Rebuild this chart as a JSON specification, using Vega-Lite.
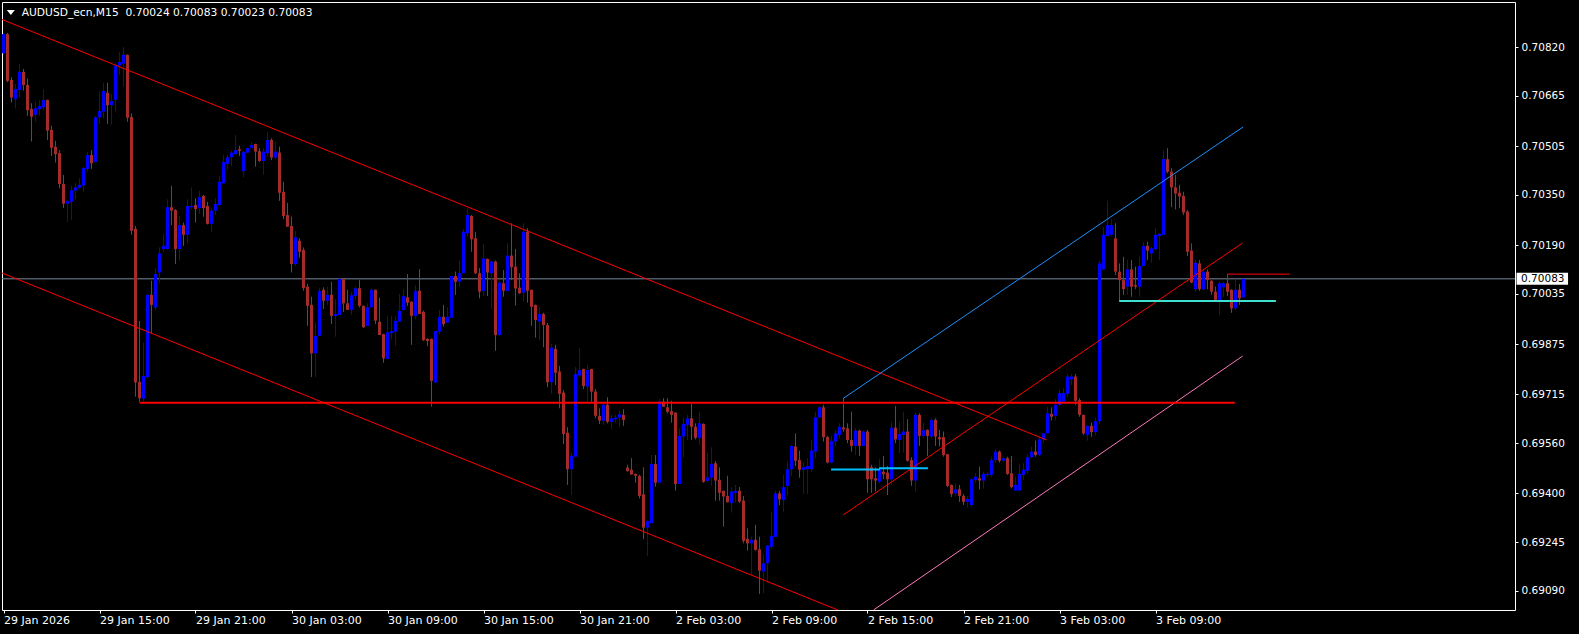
{
"$schema":"https://vega.github.io/schema/vega-lite/v6.json",
"width":1513,"height":608,
"autosize":{"type":"none"},
"padding":{"left":2,"top":2,"right":64,"bottom":24},
"background":"#000000",
"config":{"view":{"stroke":"#FFFFFF","strokeWidth":1},"font":"DejaVu Sans","axis":{"grid":false,"domain":false,"labelFont":"DejaVu Sans","labelFontSize":10.5,"labelColor":"#FFFFFF","tickColor":"#FFFFFF","tickWidth":1}},
"datasets":{
"bid":[{"p":0.70083}],
"head":[{"t":"AUDUSD_ecn,M15\u00a0 0.70024 0.70083 0.70023 0.70083"}],
"lines":[
{"name":"upper","x1":-0.375,"p1":0.709085,"x2":260.8,"p2":0.695699},
{"name":"lower","x1":-0.375,"p1":0.701015,"x2":208.6,"p2":0.690288},
{"name":"blue","x1":209.9,"p1":0.69702,"x2":309.9,"p2":0.705663},
{"name":"mid","x1":209.9,"p1":0.693312,"x2":309.75,"p2":0.70197},
{"name":"pink","x1":217.5,"p1":0.690288,"x2":309.8,"p2":0.698373},
{"name":"short","x1":305.95,"p1":0.70098,"x2":321.6,"p2":0.70098}],
"thick":[
{"name":"support","x1":34,"p1":0.696886,"x2":307.8,"p2":0.696886},
{"name":"cyanA","x1":206.9,"p1":0.69476,"x2":219.1,"p2":0.69476},
{"name":"cyanB","x1":218.9,"p1":0.694798,"x2":231.1,"p2":0.694798},
{"name":"turq","x1":278.95,"p1":0.700124,"x2":318.1,"p2":0.700124}],
"candles":[
{"i":0,"o":0.70801,"h":0.70866,"l":0.70795,"c":0.70862},
{"i":1,"o":0.70862,"h":0.70866,"l":0.70709,"c":0.70713},
{"i":2,"o":0.70716,"h":0.70725,"l":0.70644,"c":0.7066},
{"i":3,"o":0.70655,"h":0.70703,"l":0.70625,"c":0.70687},
{"i":4,"o":0.70684,"h":0.70767,"l":0.70661,"c":0.70742},
{"i":5,"o":0.70742,"h":0.70751,"l":0.70682,"c":0.707},
{"i":6,"o":0.707,"h":0.70721,"l":0.70602,"c":0.7062},
{"i":7,"o":0.70624,"h":0.70642,"l":0.7052,"c":0.70599},
{"i":8,"o":0.70605,"h":0.70647,"l":0.70583,"c":0.70626},
{"i":9,"o":0.70623,"h":0.70652,"l":0.70602,"c":0.70633},
{"i":10,"o":0.70629,"h":0.70686,"l":0.7062,"c":0.70652},
{"i":11,"o":0.70652,"h":0.70654,"l":0.70525,"c":0.70555},
{"i":12,"o":0.70557,"h":0.7057,"l":0.70474,"c":0.705},
{"i":13,"o":0.70503,"h":0.70522,"l":0.70453,"c":0.7048},
{"i":14,"o":0.70483,"h":0.70493,"l":0.70371,"c":0.70385},
{"i":15,"o":0.70385,"h":0.70414,"l":0.70309,"c":0.70322},
{"i":16,"o":0.70322,"h":0.70334,"l":0.70265,"c":0.70331},
{"i":17,"o":0.70329,"h":0.70379,"l":0.7027,"c":0.70365},
{"i":18,"o":0.70364,"h":0.70387,"l":0.70337,"c":0.70374},
{"i":19,"o":0.70373,"h":0.70403,"l":0.70369,"c":0.70382},
{"i":20,"o":0.7038,"h":0.7044,"l":0.7036,"c":0.70436},
{"i":21,"o":0.70433,"h":0.70487,"l":0.70424,"c":0.70477},
{"i":22,"o":0.70477,"h":0.70493,"l":0.70433,"c":0.70451},
{"i":23,"o":0.70455,"h":0.70601,"l":0.70453,"c":0.70597},
{"i":24,"o":0.70597,"h":0.70679,"l":0.70576,"c":0.70617},
{"i":25,"o":0.70615,"h":0.70707,"l":0.70594,"c":0.70681},
{"i":26,"o":0.70675,"h":0.70707,"l":0.70576,"c":0.70636},
{"i":27,"o":0.70636,"h":0.70671,"l":0.70573,"c":0.70649},
{"i":28,"o":0.70653,"h":0.70769,"l":0.70615,"c":0.70762},
{"i":29,"o":0.70762,"h":0.70805,"l":0.70732,"c":0.70773},
{"i":30,"o":0.70768,"h":0.70821,"l":0.70695,"c":0.70796},
{"i":31,"o":0.70796,"h":0.70797,"l":0.70583,"c":0.70596},
{"i":32,"o":0.70598,"h":0.7061,"l":0.70223,"c":0.70236},
{"i":33,"o":0.70242,"h":0.70251,"l":0.69708,"c":0.69753},
{"i":34,"o":0.69755,"h":0.69949,"l":0.69692,"c":0.69703},
{"i":35,"o":0.69701,"h":0.6988,"l":0.69692,"c":0.69774},
{"i":36,"o":0.6977,"h":0.70035,"l":0.69767,"c":0.70032},
{"i":37,"o":0.70032,"h":0.70077,"l":0.6991,"c":0.7},
{"i":38,"o":0.69992,"h":0.70118,"l":0.69984,"c":0.70098},
{"i":39,"o":0.70103,"h":0.70183,"l":0.70069,"c":0.70164},
{"i":40,"o":0.70178,"h":0.70226,"l":0.70169,"c":0.70188},
{"i":41,"o":0.70178,"h":0.70336,"l":0.70175,"c":0.70311},
{"i":42,"o":0.70311,"h":0.70379,"l":0.70254,"c":0.703},
{"i":43,"o":0.70302,"h":0.70305,"l":0.7013,"c":0.70178},
{"i":44,"o":0.70178,"h":0.70283,"l":0.70141,"c":0.70254},
{"i":45,"o":0.70254,"h":0.70262,"l":0.70188,"c":0.70223},
{"i":46,"o":0.70223,"h":0.70336,"l":0.70196,"c":0.70315},
{"i":47,"o":0.70311,"h":0.70374,"l":0.70304,"c":0.70315},
{"i":48,"o":0.70318,"h":0.70339,"l":0.70262,"c":0.70305},
{"i":49,"o":0.70308,"h":0.70363,"l":0.70289,"c":0.70343},
{"i":50,"o":0.70347,"h":0.7035,"l":0.70281,"c":0.70308},
{"i":51,"o":0.70315,"h":0.70328,"l":0.70256,"c":0.70258},
{"i":52,"o":0.70258,"h":0.70308,"l":0.70233,"c":0.703},
{"i":53,"o":0.703,"h":0.70339,"l":0.70286,"c":0.70321},
{"i":54,"o":0.70318,"h":0.7041,"l":0.70315,"c":0.70392},
{"i":55,"o":0.70387,"h":0.70477,"l":0.70385,"c":0.70455},
{"i":56,"o":0.70449,"h":0.70477,"l":0.7043,"c":0.7047},
{"i":57,"o":0.7047,"h":0.70491,"l":0.70442,"c":0.70485},
{"i":58,"o":0.7048,"h":0.70541,"l":0.70477,"c":0.70493},
{"i":59,"o":0.70495,"h":0.70506,"l":0.70474,"c":0.7049},
{"i":60,"o":0.70426,"h":0.70491,"l":0.70406,"c":0.70487},
{"i":61,"o":0.70485,"h":0.705,"l":0.70483,"c":0.70499},
{"i":62,"o":0.70499,"h":0.70519,"l":0.70498,"c":0.70509},
{"i":63,"o":0.70512,"h":0.70513,"l":0.7044,"c":0.70488},
{"i":64,"o":0.70489,"h":0.70499,"l":0.70456,"c":0.70458},
{"i":65,"o":0.70458,"h":0.70499,"l":0.70414,"c":0.70488},
{"i":66,"o":0.70483,"h":0.7055,"l":0.70472,"c":0.70525},
{"i":67,"o":0.70525,"h":0.7053,"l":0.70461,"c":0.70469},
{"i":68,"o":0.70469,"h":0.7052,"l":0.70464,"c":0.70488},
{"i":69,"o":0.70485,"h":0.70504,"l":0.70331,"c":0.70357},
{"i":70,"o":0.7036,"h":0.70392,"l":0.70273,"c":0.70283},
{"i":71,"o":0.70286,"h":0.70325,"l":0.70248,"c":0.70249},
{"i":72,"o":0.70251,"h":0.70281,"l":0.70103,"c":0.7013},
{"i":73,"o":0.7013,"h":0.70236,"l":0.70124,"c":0.70215},
{"i":74,"o":0.70204,"h":0.70212,"l":0.7015,"c":0.70169},
{"i":75,"o":0.70175,"h":0.70183,"l":0.70045,"c":0.70053},
{"i":76,"o":0.70058,"h":0.70067,"l":0.69933,"c":0.69997},
{"i":77,"o":0.7,"h":0.70026,"l":0.6977,"c":0.69846},
{"i":78,"o":0.69846,"h":0.69942,"l":0.6977,"c":0.69901},
{"i":79,"o":0.69902,"h":0.70053,"l":0.699,"c":0.70044},
{"i":80,"o":0.70048,"h":0.70056,"l":0.69987,"c":0.70013},
{"i":81,"o":0.70013,"h":0.70058,"l":0.7,"c":0.70032},
{"i":82,"o":0.70032,"h":0.70073,"l":0.69939,"c":0.69965},
{"i":83,"o":0.69965,"h":0.70019,"l":0.69899,"c":0.69971},
{"i":84,"o":0.69968,"h":0.70085,"l":0.69968,"c":0.70082},
{"i":85,"o":0.70082,"h":0.70086,"l":0.69978,"c":0.70005},
{"i":86,"o":0.70005,"h":0.70048,"l":0.69984,"c":0.69984},
{"i":87,"o":0.69984,"h":0.70042,"l":0.69968,"c":0.70031},
{"i":88,"o":0.70028,"h":0.70058,"l":0.70016,"c":0.70053},
{"i":89,"o":0.70053,"h":0.70079,"l":0.69992,"c":0.69997},
{"i":90,"o":0.69997,"h":0.69998,"l":0.69926,"c":0.69929},
{"i":91,"o":0.69933,"h":0.70005,"l":0.69933,"c":0.69992},
{"i":92,"o":0.69992,"h":0.70053,"l":0.69992,"c":0.70048},
{"i":93,"o":0.70048,"h":0.70049,"l":0.69939,"c":0.6995},
{"i":94,"o":0.69946,"h":0.70023,"l":0.69904,"c":0.69904},
{"i":95,"o":0.69907,"h":0.69908,"l":0.69816,"c":0.6983},
{"i":96,"o":0.69828,"h":0.69965,"l":0.69828,"c":0.69913},
{"i":97,"o":0.6991,"h":0.69965,"l":0.69891,"c":0.69916},
{"i":98,"o":0.69915,"h":0.69963,"l":0.69869,"c":0.69949},
{"i":99,"o":0.69947,"h":0.70035,"l":0.69947,"c":0.69981},
{"i":100,"o":0.69984,"h":0.7005,"l":0.69982,"c":0.70028},
{"i":101,"o":0.70024,"h":0.70098,"l":0.69997,"c":0.70007},
{"i":102,"o":0.7001,"h":0.70011,"l":0.69873,"c":0.69965},
{"i":103,"o":0.69965,"h":0.70063,"l":0.69954,"c":0.70044},
{"i":104,"o":0.70045,"h":0.70114,"l":0.69971,"c":0.69971},
{"i":105,"o":0.69978,"h":0.69982,"l":0.69885,"c":0.69888},
{"i":106,"o":0.69892,"h":0.69894,"l":0.69869,"c":0.69885},
{"i":107,"o":0.69892,"h":0.69893,"l":0.69676,"c":0.69758},
{"i":108,"o":0.69753,"h":0.69917,"l":0.69753,"c":0.69917},
{"i":109,"o":0.69915,"h":0.69984,"l":0.69907,"c":0.69962},
{"i":110,"o":0.69962,"h":0.7,"l":0.69931,"c":0.69939},
{"i":111,"o":0.69943,"h":0.69992,"l":0.69943,"c":0.69962},
{"i":112,"o":0.69959,"h":0.70092,"l":0.69959,"c":0.70092},
{"i":113,"o":0.70092,"h":0.70106,"l":0.70032,"c":0.70074},
{"i":114,"o":0.70074,"h":0.70141,"l":0.70058,"c":0.70101},
{"i":115,"o":0.70101,"h":0.70241,"l":0.70101,"c":0.70233},
{"i":116,"o":0.70228,"h":0.70308,"l":0.70217,"c":0.70286},
{"i":117,"o":0.70283,"h":0.70286,"l":0.70169,"c":0.70209},
{"i":118,"o":0.70212,"h":0.70233,"l":0.70098,"c":0.70101},
{"i":119,"o":0.70101,"h":0.70117,"l":0.70021,"c":0.70042},
{"i":120,"o":0.70044,"h":0.70194,"l":0.70028,"c":0.70148},
{"i":121,"o":0.70146,"h":0.70148,"l":0.70028,"c":0.70103},
{"i":122,"o":0.70101,"h":0.70141,"l":0.69987,"c":0.70138},
{"i":123,"o":0.70138,"h":0.70141,"l":0.69854,"c":0.69904},
{"i":124,"o":0.69904,"h":0.70077,"l":0.69902,"c":0.70071},
{"i":125,"o":0.70069,"h":0.70111,"l":0.70026,"c":0.70045},
{"i":126,"o":0.70044,"h":0.70196,"l":0.70044,"c":0.70157},
{"i":127,"o":0.70157,"h":0.7026,"l":0.70079,"c":0.7012},
{"i":128,"o":0.70122,"h":0.70178,"l":0.69998,"c":0.70052},
{"i":129,"o":0.70055,"h":0.70101,"l":0.70035,"c":0.70037},
{"i":130,"o":0.70039,"h":0.7026,"l":0.7001,"c":0.70233},
{"i":131,"o":0.70233,"h":0.70244,"l":0.70007,"c":0.70045},
{"i":132,"o":0.70048,"h":0.70049,"l":0.69933,"c":0.69994},
{"i":133,"o":0.7,"h":0.70001,"l":0.69896,"c":0.69952},
{"i":134,"o":0.69947,"h":0.69994,"l":0.69888,"c":0.69971},
{"i":135,"o":0.69971,"h":0.69975,"l":0.69865,"c":0.69936},
{"i":136,"o":0.69936,"h":0.69943,"l":0.69738,"c":0.69754},
{"i":137,"o":0.69754,"h":0.69876,"l":0.69717,"c":0.69864},
{"i":138,"o":0.6986,"h":0.69873,"l":0.69745,"c":0.69784},
{"i":139,"o":0.69788,"h":0.69806,"l":0.69671,"c":0.69717},
{"i":140,"o":0.69721,"h":0.69729,"l":0.69557,"c":0.69589},
{"i":141,"o":0.69593,"h":0.69611,"l":0.69427,"c":0.69477},
{"i":142,"o":0.69477,"h":0.69531,"l":0.69395,"c":0.6952},
{"i":143,"o":0.69517,"h":0.69802,"l":0.69517,"c":0.6978},
{"i":144,"o":0.69775,"h":0.69862,"l":0.6977,"c":0.69793},
{"i":145,"o":0.69796,"h":0.69797,"l":0.69732,"c":0.69742},
{"i":146,"o":0.6974,"h":0.69809,"l":0.69692,"c":0.69793},
{"i":147,"o":0.69796,"h":0.69797,"l":0.69692,"c":0.69724},
{"i":148,"o":0.69724,"h":0.69732,"l":0.69639,"c":0.69647},
{"i":149,"o":0.69647,"h":0.69671,"l":0.69621,"c":0.69632},
{"i":150,"o":0.69631,"h":0.69687,"l":0.69618,"c":0.69682},
{"i":151,"o":0.69682,"h":0.69706,"l":0.69623,"c":0.69628},
{"i":152,"o":0.69628,"h":0.6965,"l":0.69604,"c":0.69639},
{"i":153,"o":0.69636,"h":0.6965,"l":0.69625,"c":0.69641},
{"i":154,"o":0.69641,"h":0.69663,"l":0.69611,"c":0.69652},
{"i":155,"o":0.6965,"h":0.69668,"l":0.69615,"c":0.69634},
{"i":156,"o":0.69482,"h":0.69491,"l":0.69469,"c":0.69471},
{"i":157,"o":0.69475,"h":0.69512,"l":0.69459,"c":0.6946},
{"i":158,"o":0.69462,"h":0.69463,"l":0.69434,"c":0.69456},
{"i":159,"o":0.69456,"h":0.69459,"l":0.69384,"c":0.69392},
{"i":160,"o":0.69397,"h":0.69483,"l":0.69254,"c":0.69291},
{"i":161,"o":0.69291,"h":0.69315,"l":0.69201,"c":0.69312},
{"i":162,"o":0.69305,"h":0.69522,"l":0.69305,"c":0.69494},
{"i":163,"o":0.69494,"h":0.69522,"l":0.69421,"c":0.69434},
{"i":164,"o":0.69434,"h":0.697,"l":0.69434,"c":0.69692},
{"i":165,"o":0.69692,"h":0.69703,"l":0.69676,"c":0.69676},
{"i":166,"o":0.69674,"h":0.69703,"l":0.69655,"c":0.6966},
{"i":167,"o":0.69662,"h":0.69695,"l":0.69625,"c":0.6965},
{"i":168,"o":0.69657,"h":0.69658,"l":0.69409,"c":0.6943},
{"i":169,"o":0.6943,"h":0.69607,"l":0.6943,"c":0.69583},
{"i":170,"o":0.69581,"h":0.69642,"l":0.69515,"c":0.69621},
{"i":171,"o":0.69618,"h":0.6965,"l":0.6957,"c":0.69639},
{"i":172,"o":0.69639,"h":0.69685,"l":0.6957,"c":0.69612},
{"i":173,"o":0.69612,"h":0.69623,"l":0.69572,"c":0.69577},
{"i":174,"o":0.69577,"h":0.6966,"l":0.69554,"c":0.69623},
{"i":175,"o":0.69621,"h":0.69623,"l":0.69434,"c":0.69437},
{"i":176,"o":0.6944,"h":0.69528,"l":0.69437,"c":0.69451},
{"i":177,"o":0.6945,"h":0.69547,"l":0.69424,"c":0.69494},
{"i":178,"o":0.69496,"h":0.69503,"l":0.69377,"c":0.69441},
{"i":179,"o":0.69443,"h":0.69483,"l":0.69377,"c":0.69402},
{"i":180,"o":0.69408,"h":0.69409,"l":0.69294,"c":0.6939},
{"i":181,"o":0.69392,"h":0.69456,"l":0.69371,"c":0.69372},
{"i":182,"o":0.69369,"h":0.6942,"l":0.69339,"c":0.69406},
{"i":183,"o":0.69402,"h":0.69427,"l":0.69371,"c":0.69408},
{"i":184,"o":0.69408,"h":0.6942,"l":0.69369,"c":0.69374},
{"i":185,"o":0.69377,"h":0.69392,"l":0.69241,"c":0.69249},
{"i":186,"o":0.69255,"h":0.69289,"l":0.69218,"c":0.69241},
{"i":187,"o":0.69241,"h":0.69262,"l":0.6914,"c":0.69252},
{"i":188,"o":0.69252,"h":0.693,"l":0.69218,"c":0.6922},
{"i":189,"o":0.69222,"h":0.69262,"l":0.6908,"c":0.69154},
{"i":190,"o":0.69151,"h":0.69207,"l":0.69082,"c":0.69178},
{"i":191,"o":0.69178,"h":0.69236,"l":0.69119,"c":0.69234},
{"i":192,"o":0.6923,"h":0.69342,"l":0.69225,"c":0.69265},
{"i":193,"o":0.69262,"h":0.69408,"l":0.69262,"c":0.694},
{"i":194,"o":0.694,"h":0.69408,"l":0.69363,"c":0.69381},
{"i":195,"o":0.69379,"h":0.69459,"l":0.69341,"c":0.6942},
{"i":196,"o":0.69424,"h":0.69501,"l":0.69395,"c":0.69477},
{"i":197,"o":0.69477,"h":0.69554,"l":0.69456,"c":0.69551},
{"i":198,"o":0.69549,"h":0.69591,"l":0.69487,"c":0.69504},
{"i":199,"o":0.69506,"h":0.69536,"l":0.6945,"c":0.69475},
{"i":200,"o":0.69475,"h":0.69501,"l":0.69398,"c":0.69483},
{"i":201,"o":0.69477,"h":0.69512,"l":0.69398,"c":0.69487},
{"i":202,"o":0.69477,"h":0.6957,"l":0.69469,"c":0.69536},
{"i":203,"o":0.69533,"h":0.6966,"l":0.69512,"c":0.69642},
{"i":204,"o":0.69642,"h":0.69678,"l":0.69639,"c":0.69674},
{"i":205,"o":0.69674,"h":0.69682,"l":0.69565,"c":0.69579},
{"i":206,"o":0.69579,"h":0.69583,"l":0.69496,"c":0.69498},
{"i":207,"o":0.69498,"h":0.69583,"l":0.69496,"c":0.69567},
{"i":208,"o":0.69565,"h":0.696,"l":0.69551,"c":0.69591},
{"i":209,"o":0.69586,"h":0.69623,"l":0.69576,"c":0.69612},
{"i":210,"o":0.6961,"h":0.69703,"l":0.69597,"c":0.69604},
{"i":211,"o":0.69607,"h":0.69623,"l":0.6956,"c":0.6957},
{"i":212,"o":0.6957,"h":0.6966,"l":0.69533,"c":0.69551},
{"i":213,"o":0.69551,"h":0.69607,"l":0.69522,"c":0.696},
{"i":214,"o":0.696,"h":0.69602,"l":0.69519,"c":0.69551},
{"i":215,"o":0.69551,"h":0.69602,"l":0.69551,"c":0.69597},
{"i":216,"o":0.69597,"h":0.69602,"l":0.69402,"c":0.69445},
{"i":217,"o":0.69483,"h":0.69491,"l":0.69402,"c":0.69445},
{"i":218,"o":0.69448,"h":0.69483,"l":0.69406,"c":0.69441},
{"i":219,"o":0.69437,"h":0.69509,"l":0.69432,"c":0.69477},
{"i":220,"o":0.69469,"h":0.69519,"l":0.69445,"c":0.69461},
{"i":221,"o":0.69466,"h":0.69487,"l":0.69395,"c":0.69445},
{"i":222,"o":0.69445,"h":0.69628,"l":0.69427,"c":0.69609},
{"i":223,"o":0.69609,"h":0.69678,"l":0.6956,"c":0.69572},
{"i":224,"o":0.6957,"h":0.69628,"l":0.69528,"c":0.69589},
{"i":225,"o":0.69586,"h":0.6966,"l":0.6953,"c":0.69597},
{"i":226,"o":0.69597,"h":0.69636,"l":0.69501,"c":0.69504},
{"i":227,"o":0.69506,"h":0.69515,"l":0.69424,"c":0.69441},
{"i":228,"o":0.69441,"h":0.69657,"l":0.69406,"c":0.6965},
{"i":229,"o":0.6965,"h":0.69655,"l":0.69551,"c":0.69583},
{"i":230,"o":0.69583,"h":0.69625,"l":0.69576,"c":0.69602},
{"i":231,"o":0.69602,"h":0.69604,"l":0.69519,"c":0.69583},
{"i":232,"o":0.69581,"h":0.69636,"l":0.69575,"c":0.69634},
{"i":233,"o":0.69634,"h":0.69639,"l":0.69551,"c":0.69581},
{"i":234,"o":0.69579,"h":0.69602,"l":0.69549,"c":0.69572},
{"i":235,"o":0.69579,"h":0.69597,"l":0.69517,"c":0.69522},
{"i":236,"o":0.69525,"h":0.69526,"l":0.6942,"c":0.69424},
{"i":237,"o":0.69427,"h":0.69428,"l":0.69388,"c":0.69398},
{"i":238,"o":0.694,"h":0.69434,"l":0.6939,"c":0.69413},
{"i":239,"o":0.69413,"h":0.69427,"l":0.69373,"c":0.69392},
{"i":240,"o":0.69392,"h":0.69398,"l":0.69363,"c":0.69373},
{"i":241,"o":0.69373,"h":0.69392,"l":0.69354,"c":0.69382},
{"i":242,"o":0.69363,"h":0.69446,"l":0.69357,"c":0.69445},
{"i":243,"o":0.69443,"h":0.69464,"l":0.69434,"c":0.69453},
{"i":244,"o":0.69448,"h":0.69485,"l":0.69413,"c":0.69441},
{"i":245,"o":0.69441,"h":0.69469,"l":0.69416,"c":0.69462},
{"i":246,"o":0.69459,"h":0.69466,"l":0.69451,"c":0.69462},
{"i":247,"o":0.69459,"h":0.69515,"l":0.69451,"c":0.69506},
{"i":248,"o":0.69506,"h":0.69541,"l":0.69496,"c":0.69533},
{"i":249,"o":0.69533,"h":0.69536,"l":0.69498,"c":0.69504},
{"i":250,"o":0.69504,"h":0.69515,"l":0.69501,"c":0.69512},
{"i":251,"o":0.69512,"h":0.69517,"l":0.69459,"c":0.69462},
{"i":252,"o":0.69464,"h":0.69519,"l":0.69416,"c":0.6942},
{"i":253,"o":0.69409,"h":0.69453,"l":0.69409,"c":0.69427},
{"i":254,"o":0.69409,"h":0.69494,"l":0.69409,"c":0.69462},
{"i":255,"o":0.69459,"h":0.69496,"l":0.69443,"c":0.69475},
{"i":256,"o":0.69472,"h":0.69525,"l":0.69462,"c":0.69515},
{"i":257,"o":0.69515,"h":0.69549,"l":0.69512,"c":0.69533},
{"i":258,"o":0.69533,"h":0.69568,"l":0.69517,"c":0.69522},
{"i":259,"o":0.69522,"h":0.69583,"l":0.69519,"c":0.69572},
{"i":260,"o":0.69572,"h":0.69593,"l":0.6956,"c":0.69591},
{"i":261,"o":0.69591,"h":0.69676,"l":0.69591,"c":0.69655},
{"i":262,"o":0.69653,"h":0.69674,"l":0.69632,"c":0.69644},
{"i":263,"o":0.69647,"h":0.697,"l":0.69632,"c":0.69682},
{"i":264,"o":0.69682,"h":0.69729,"l":0.69678,"c":0.69719},
{"i":265,"o":0.69692,"h":0.69735,"l":0.69687,"c":0.69719},
{"i":266,"o":0.69717,"h":0.6978,"l":0.69708,"c":0.69772},
{"i":267,"o":0.69763,"h":0.6978,"l":0.69745,"c":0.69772},
{"i":268,"o":0.69772,"h":0.6978,"l":0.69682,"c":0.69695},
{"i":269,"o":0.69697,"h":0.69703,"l":0.69644,"c":0.6965},
{"i":270,"o":0.6965,"h":0.69651,"l":0.69586,"c":0.69591},
{"i":271,"o":0.69586,"h":0.69618,"l":0.69568,"c":0.69615},
{"i":272,"o":0.69615,"h":0.69625,"l":0.6958,"c":0.69595},
{"i":273,"o":0.69595,"h":0.6964,"l":0.69585,"c":0.6963},
{"i":274,"o":0.6963,"h":0.7014,"l":0.6962,"c":0.70132},
{"i":275,"o":0.70113,"h":0.70249,"l":0.7011,"c":0.70223},
{"i":276,"o":0.70219,"h":0.70332,"l":0.70219,"c":0.70254},
{"i":277,"o":0.70223,"h":0.70273,"l":0.70219,"c":0.70254},
{"i":278,"o":0.70212,"h":0.7026,"l":0.70095,"c":0.70106},
{"i":279,"o":0.70106,"h":0.70132,"l":0.7001,"c":0.70079},
{"i":280,"o":0.70079,"h":0.70153,"l":0.70032,"c":0.7005},
{"i":281,"o":0.70058,"h":0.70143,"l":0.70032,"c":0.70113},
{"i":282,"o":0.70113,"h":0.70143,"l":0.70026,"c":0.70058},
{"i":283,"o":0.70063,"h":0.70122,"l":0.7005,"c":0.70058},
{"i":284,"o":0.70058,"h":0.70153,"l":0.70026,"c":0.70124},
{"i":285,"o":0.70124,"h":0.70201,"l":0.70124,"c":0.70188},
{"i":286,"o":0.70188,"h":0.70201,"l":0.70143,"c":0.70173},
{"i":287,"o":0.70164,"h":0.70185,"l":0.70134,"c":0.7018},
{"i":288,"o":0.70177,"h":0.70244,"l":0.70175,"c":0.70223},
{"i":289,"o":0.70219,"h":0.70228,"l":0.70143,"c":0.70226},
{"i":290,"o":0.70223,"h":0.70493,"l":0.70223,"c":0.70464},
{"i":291,"o":0.70464,"h":0.70499,"l":0.70419,"c":0.70424},
{"i":292,"o":0.70424,"h":0.70435,"l":0.70311,"c":0.70374},
{"i":293,"o":0.70374,"h":0.70414,"l":0.70304,"c":0.70355},
{"i":294,"o":0.70357,"h":0.70382,"l":0.70308,"c":0.70345},
{"i":295,"o":0.70347,"h":0.7036,"l":0.70286,"c":0.70294},
{"i":296,"o":0.70297,"h":0.70302,"l":0.70156,"c":0.70169},
{"i":297,"o":0.70173,"h":0.70196,"l":0.70069,"c":0.70071},
{"i":298,"o":0.7005,"h":0.70143,"l":0.70042,"c":0.70134},
{"i":299,"o":0.70132,"h":0.70143,"l":0.70045,"c":0.7005},
{"i":300,"o":0.7005,"h":0.70113,"l":0.70045,"c":0.70106},
{"i":301,"o":0.70106,"h":0.70113,"l":0.7005,"c":0.70079},
{"i":302,"o":0.70077,"h":0.70078,"l":0.70032,"c":0.70042},
{"i":303,"o":0.70042,"h":0.70058,"l":0.70013,"c":0.70016},
{"i":304,"o":0.70016,"h":0.70074,"l":0.69968,"c":0.70069},
{"i":305,"o":0.70056,"h":0.70074,"l":0.70026,"c":0.70069},
{"i":306,"o":0.70069,"h":0.70098,"l":0.70028,"c":0.70042},
{"i":307,"o":0.70048,"h":0.7005,"l":0.69975,"c":0.69989},
{"i":308,"o":0.69989,"h":0.70082,"l":0.69984,"c":0.70048},
{"i":309,"o":0.70048,"h":0.70067,"l":0.7,"c":0.70021},
{"i":310,"o":0.70024,"h":0.70083,"l":0.70023,"c":0.70083}
]},
"layer":[
{"data":{"name":"bid"},"mark":{"type":"rule","color":"#778899","strokeWidth":1},
 "encoding":{"y":{"field":"p","type":"quantitative","scale":{"domain":[0.690288,0.709642],"nice":false,"zero":false,"padding":0},"axis":{"title":null}}}},
{"data":{"name":"candles"},"mark":{"type":"rule","strokeWidth":1},
 "encoding":{
  "x":{"field":"i","type":"quantitative","scale":{"domain":[-0.375,377.875],"nice":false,"zero":false,"padding":0},
   "axis":{"orient":"bottom","values":[0,24,48,72,96,120,144,168,192,216,240,264,288],"labelExpr":"['29 Jan 2026','29 Jan 15:00','29 Jan 21:00','30 Jan 03:00','30 Jan 09:00','30 Jan 15:00','30 Jan 21:00','2 Feb 03:00','2 Feb 09:00','2 Feb 15:00','2 Feb 21:00','3 Feb 03:00','3 Feb 09:00'][round(datum.value/24)]","labelAlign":"left","labelBaseline":"top","labelPadding":1,"labelFontSize":11,"tickSize":3,"labelFlush":false,"labelOverlap":false,"title":null,"domain":false,"grid":false}},
  "y":{"field":"l","type":"quantitative","scale":{"domain":[0.690288,0.709642],"nice":false,"zero":false,"padding":0},
   "axis":{"orient":"right","values":[0.7082,0.70665,0.70505,0.7035,0.7019,0.70035,0.69875,0.69715,0.6956,0.694,0.69245,0.6909],"format":".5f","tickSize":3,"labelPadding":3,"labelFlush":false,"labelOverlap":false,"title":null,"domain":false,"grid":false}},
  "y2":{"field":"h"},
  "color":{"condition":{"test":"datum.c >= datum.o","value":"#0000FF"},"value":"#A52A2A"}}},
{"data":{"name":"candles"},"mark":{"type":"bar","size":3,"orient":"vertical"},
 "encoding":{
  "x":{"field":"i","type":"quantitative","scale":{"domain":[-0.375,377.875],"nice":false,"zero":false,"padding":0},"axis":{"title":null}},
  "y":{"field":"o","type":"quantitative","scale":{"domain":[0.690288,0.709642],"nice":false,"zero":false,"padding":0},"axis":{"title":null}},
  "y2":{"field":"c"},
  "color":{"condition":{"test":"datum.c >= datum.o","value":"#0000FF"},"value":"#A52A2A"}}},
{"data":{"name":"lines"},"mark":{"type":"rule","strokeWidth":1,"clip":true},
 "encoding":{
  "x":{"field":"x1","type":"quantitative","scale":{"domain":[-0.375,377.875],"nice":false,"zero":false,"padding":0},"axis":{"title":null}},
  "x2":{"field":"x2"},
  "y":{"field":"p1","type":"quantitative","scale":{"domain":[0.690288,0.709642],"nice":false,"zero":false,"padding":0},"axis":{"title":null}},
  "y2":{"field":"p2"},
  "color":{"field":"name","type":"nominal","legend":null,"scale":{"domain":["upper","lower","blue","mid","pink","short","support","cyanA","cyanB","turq"],"range":["#FF0000","#FF0000","#1E90FF","#FF0000","#FF77BB","#FF0000","#FF0000","#00BFFF","#00BFFF","#40E0D0"]}}}},
{"data":{"name":"thick"},"mark":{"type":"rule","strokeWidth":2,"clip":true},
 "encoding":{
  "x":{"field":"x1","type":"quantitative","scale":{"domain":[-0.375,377.875],"nice":false,"zero":false,"padding":0},"axis":{"title":null}},
  "x2":{"field":"x2"},
  "y":{"field":"p1","type":"quantitative","scale":{"domain":[0.690288,0.709642],"nice":false,"zero":false,"padding":0},"axis":{"title":null}},
  "y2":{"field":"p2"},
  "color":{"field":"name","type":"nominal","legend":null,"scale":{"domain":["upper","lower","blue","mid","pink","short","support","cyanA","cyanB","turq"],"range":["#FF0000","#FF0000","#1E90FF","#FF0000","#FF77BB","#FF0000","#FF0000","#00BFFF","#00BFFF","#40E0D0"]}}}},
{"data":{"name":"bid"},"mark":{"type":"point","shape":"M-1,-0.233H1V0.233H-1Z","size":2652,"filled":true,"fill":"#FFFFFF","strokeWidth":0,"opacity":1},
 "encoding":{
  "x":{"datum":384.7,"type":"quantitative","scale":{"domain":[-0.375,377.875],"nice":false,"zero":false,"padding":0},"axis":{"title":null}},
  "y":{"field":"p","type":"quantitative","scale":{"domain":[0.690288,0.709642],"nice":false,"zero":false,"padding":0},"axis":{"title":null}}}},
{"data":{"name":"bid"},"mark":{"type":"text","align":"left","baseline":"middle","fontSize":10.5,"font":"DejaVu Sans","color":"#000000"},
 "encoding":{
  "x":{"datum":379.4,"type":"quantitative","scale":{"domain":[-0.375,377.875],"nice":false,"zero":false,"padding":0},"axis":{"title":null}},
  "y":{"field":"p","type":"quantitative","scale":{"domain":[0.690288,0.709642],"nice":false,"zero":false,"padding":0},"axis":{"title":null}},
  "text":{"field":"p","type":"quantitative","format":".5f"}}},
{"data":{"name":"head"},"mark":{"type":"point","shape":"M-1,-0.6L1,-0.6L0,0.6Z","size":64,"filled":true,"fill":"#FFFFFF","strokeWidth":0,"opacity":1},
 "encoding":{
  "x":{"datum":1.83,"type":"quantitative","scale":{"domain":[-0.375,377.875],"nice":false,"zero":false,"padding":0},"axis":{"title":null}},
  "y":{"datum":0.709308,"type":"quantitative","scale":{"domain":[0.690288,0.709642],"nice":false,"zero":false,"padding":0},"axis":{"title":null}}}},
{"data":{"name":"head"},"mark":{"type":"text","align":"left","baseline":"middle","fontSize":10.7,"font":"DejaVu Sans","color":"#FFFFFF"},
 "encoding":{
  "x":{"datum":4.55,"type":"quantitative","scale":{"domain":[-0.375,377.875],"nice":false,"zero":false,"padding":0},"axis":{"title":null}},
  "y":{"datum":0.709301,"type":"quantitative","scale":{"domain":[0.690288,0.709642],"nice":false,"zero":false,"padding":0},"axis":{"title":null}},
  "text":{"field":"t"}}}
]
}
